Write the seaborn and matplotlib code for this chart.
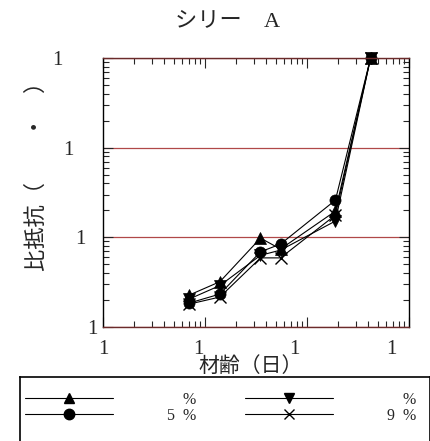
import numpy as np
import pandas as pd
import matplotlib
matplotlib.use('Agg')
import matplotlib.pyplot as plt
import matplotlib.transforms as mtransforms
from matplotlib.lines import Line2D
from matplotlib.ticker import LogLocator, NullFormatter
import seaborn as sns

# age in days, resistivity values
ages = [7, 14, 35, 55, 190, 420]
tri_up = [2.27, 3.2, 9.8, 7.4, 19.6, 1000]
circle = [1.85, 2.33, 6.9, 8.4, 26, 1000]
tri_down = [2.05, 2.9, 6.3, 7.2, 15.2, 1000]
cross = [1.8, 2.16, 5.9, 5.9, 17.7, 1000]

series_names = ['s1', 's2', 's3', 's4']
series_markers = ['^', 'o', 'v', 'x']
legend_labels = ['    %', '5  %', '    %', '9  %']

tick_values = [1, 10, 100, 1000]
tick_labels = ['1', '1', '1', '1']

sns.set_style('ticks')
plt.rcParams['font.family'] = ['Liberation Serif', 'Noto Sans CJK JP']
plt.rcParams['font.size'] = 15

df = pd.DataFrame({
    'age': ages * 4,
    'rho': tri_up + circle + tri_down + cross,
    'series': np.repeat(series_names, len(ages)),
})

fig = plt.figure(figsize=(4.31, 4.41), dpi=100)
ax = fig.add_axes([103/431, 1 - 327/441, 306/431, 269/441])

for name, m in zip(series_names, series_markers):
    sns.lineplot(data=df[df['series'] == name], x='age', y='rho', color='black',
                 marker=m, linewidth=0.8, markersize=8, markeredgecolor='black',
                 markeredgewidth=1.0 if m == 'x' else 0.5, ax=ax)
for line in ax.lines:
    line.set_clip_on(False)

ax.set_xscale('log')
ax.set_yscale('log')
ax.set_xlim(1, 1000)
ax.set_ylim(1, 1000)
ax.set_xticks(tick_values, labels=tick_labels)
ax.set_yticks(tick_values, labels=tick_labels)
ax.xaxis.set_minor_locator(LogLocator(base=10, subs=np.arange(2, 10)))
ax.yaxis.set_minor_locator(LogLocator(base=10, subs=np.arange(2, 10)))
ax.xaxis.set_minor_formatter(NullFormatter())
ax.yaxis.set_minor_formatter(NullFormatter())
ax.tick_params(which='both', direction='in', top=True, right=True, width=0.8, labelsize=15)
ax.tick_params(which='major', length=7)
ax.tick_params(which='minor', length=4)
ax.tick_params(axis='x', pad=9)
ax.tick_params(axis='y', pad=4)
ax.set_xlabel('')
ax.set_ylabel('')

ax.yaxis.grid(True, which='major', color='#b04848', linewidth=0.9)
ax.xaxis.grid(False)
for side in ['left', 'right']:
    ax.spines[side].set_color('black')
for side in ['top', 'bottom']:
    ax.spines[side].set_color('#6b2b2b')
for side in ax.spines:
    ax.spines[side].set_linewidth(1.0)

# shift tick labels like the original (only the leading digit is shown)
for lab, dx in zip(ax.get_xticklabels(), [0, -7, -13, -18]):
    lab.set_transform(lab.get_transform() + mtransforms.ScaledTranslation(dx / 100, 0, fig.dpi_scale_trans))
for lab, dx in zip(ax.get_yticklabels(), [0, -12, -24, -35]):
    lab.set_transform(lab.get_transform() + mtransforms.ScaledTranslation(dx / 100, 0, fig.dpi_scale_trans))

fig.text(228/431, 1 - 22/441, 'シリー　A', ha='center', va='center', fontsize=16)
fig.text(251/431, 1 - 367/441, '材齢（日）', ha='center', va='center', fontsize=15)
fig.text(37/431, 1 - 171/441, '比抵抗（　　・　）', ha='center', va='center', rotation=90, fontsize=16)

# legend box below the plot
lax = fig.add_axes([20/431, -0.1, 410/431, 0.1 + 64/441])
lax.set_xticks([])
lax.set_yticks([])
for side in lax.spines:
    lax.spines[side].set_color('black')
    lax.spines[side].set_linewidth(1.2)
handles = [Line2D([], [], color='black', marker=m, markersize=7.5, linewidth=0.8,
                  markeredgecolor='black') for m in series_markers]
lax.legend(handles, legend_labels, ncol=2, frameon=False, loc='upper left',
           bbox_to_anchor=(25/431, 1 - 392/441), bbox_transform=fig.transFigure,
           borderpad=0, borderaxespad=0, fontsize=11.5, handlelength=5.5,
           handletextpad=3.4, columnspacing=3.05, labelspacing=0.0)

fig.savefig('out.png', dpi=100)
